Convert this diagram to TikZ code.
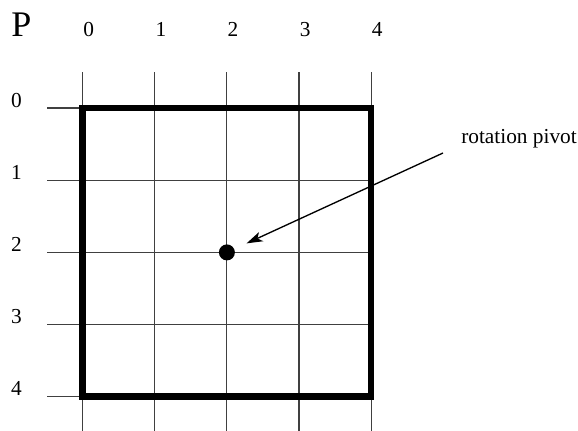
\documentclass[tikz,border=0pt]{standalone}
\usepackage{fontspec}
\setmainfont{Liberation Serif}
\usetikzlibrary{arrows.meta}
\begin{document}
\begin{tikzpicture}[x=0.75pt,y=-0.75pt,
  gridline/.style={line width=0.8pt,black!75},
  frame/.style={line width=5pt,line join=miter},
  lbl/.style={inner sep=0pt,font=\fontsize{16pt}{19pt}\selectfont},
  pivot/.style={circle,fill=black,inner sep=0pt,minimum size=12pt},
  pointer/.style={line width=1pt,-{Stealth[length=12pt,width=7.5pt,inset=3pt]},shorten >=10pt}]
\useasboundingbox (0,0) rectangle (578,430);
% grid
\foreach \k/\x in {0/82.7,1/154.8,2/226.9,3/299.0,4/371.1}{
  \coordinate (vt\k) at (\x,72);
  \coordinate (vb\k) at (\x,432);
  \draw[gridline] (vt\k) -- (vb\k);
  \node[lbl,anchor=base west] (top\k) at (\x+0.5,36) {\k};
}
\foreach \k/\y in {0/108,1/180.2,2/252.4,3/324.6,4/396.8}{
  \coordinate (hl\k) at (47,\y);
  \coordinate (hr\k) at (371.1,\y);
  \draw[gridline] (hl\k) -- (hr\k);
  \node[lbl,anchor=base] (left\k) at (16.5,\y-1) {\k};
}
% frame
\draw[frame] (82.7,108) rectangle (371.1,396.8);
% title
\node[inner sep=0pt,anchor=base west,font=\fontsize{27pt}{30pt}\selectfont] (title) at (11,36) {P};
% pivot
\node[pivot] (dot) at (226.9,252.4) {};
\node[lbl,anchor=base west] (plabel) at (461,143) {rotation pivot};
\coordinate (astart) at (443,153);
\draw[pointer] (astart) -- (dot);
\end{tikzpicture}
\end{document}
